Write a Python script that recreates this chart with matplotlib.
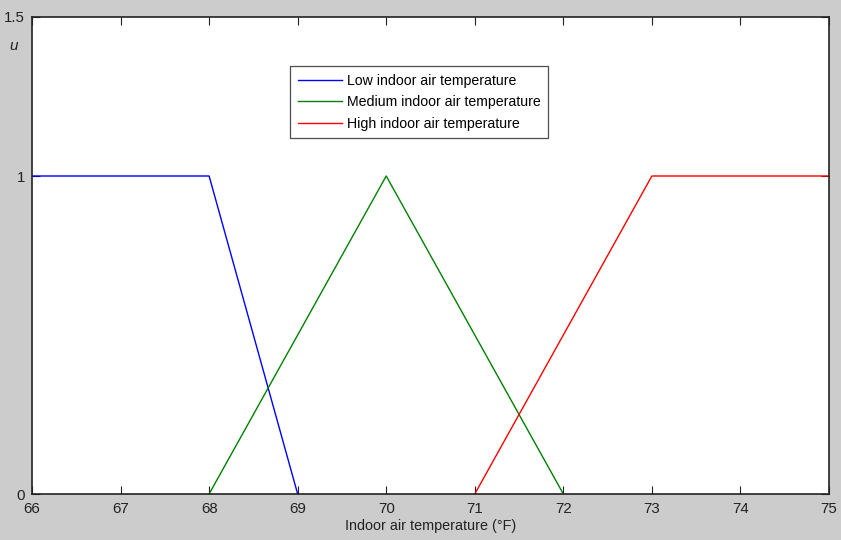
import matplotlib
matplotlib.use("Agg")
import matplotlib.pyplot as plt

plt.rcParams['font.family'] = ['Liberation Sans', 'DejaVu Sans']

# Membership functions for indoor air temperature (°F)
low_x = [66, 68, 69]
low_u = [1, 1, 0]
medium_x = [68, 70, 72]
medium_u = [0, 1, 0]
high_x = [71, 73, 75]
high_u = [0, 1, 1]

labels = ["Low indoor air temperature",
          "Medium indoor air temperature",
          "High indoor air temperature"]
x_ticks = [66, 67, 68, 69, 70, 71, 72, 73, 74, 75]
y_ticks = [0, 1, 1.5]
y_tick_labels = ["0", "1", "1.5"]

fig = plt.figure(figsize=(8.41, 5.40), dpi=100, facecolor="#cccccc")
ax = fig.add_axes([32 / 841, 46 / 540, 797 / 841, 477 / 540])
ax.set_facecolor("white")

ax.plot(low_x, low_u, color=(0, 0, 1), lw=1.0, label=labels[0])
ax.plot(medium_x, medium_u, color=(0, 0.5, 0), lw=1.0, label=labels[1])
ax.plot(high_x, high_u, color=(1, 0, 0), lw=1.0, label=labels[2])

ax.set_xlim(66, 75)
ax.set_ylim(0, 1.5)
ax.set_xticks(x_ticks)
ax.set_yticks(y_ticks)
ax.set_yticklabels(y_tick_labels)
ax.tick_params(direction="in", length=6, width=0.8, labelsize=10.8,
               top=True, right=True, colors="#222222")
ax.tick_params(axis="x", pad=6)
ax.tick_params(axis="y", pad=5)
for s in ax.spines.values():
    s.set_linewidth(1.2)
    s.set_color("#222222")

ax.set_xlabel("Indoor air temperature (°F)", fontsize=10.4, labelpad=2, color="#222222")
fig.text(14 / 841, 1 - 46 / 540, "u", fontsize=11, style="italic",
         ha="center", va="center", color="#222222")

leg = ax.legend(loc="upper left", bbox_to_anchor=(290 / 841, 1 - 66 / 540),
                bbox_transform=fig.transFigure, fontsize=10.2, frameon=True,
                fancybox=False, handlelength=3.1, handletextpad=0.35,
                borderpad=0.55, labelspacing=0.52, borderaxespad=0)
leg.get_frame().set_edgecolor("#222222")
leg.get_frame().set_linewidth(0.9)

fig.savefig("out.png", dpi=100, facecolor=fig.get_facecolor())
